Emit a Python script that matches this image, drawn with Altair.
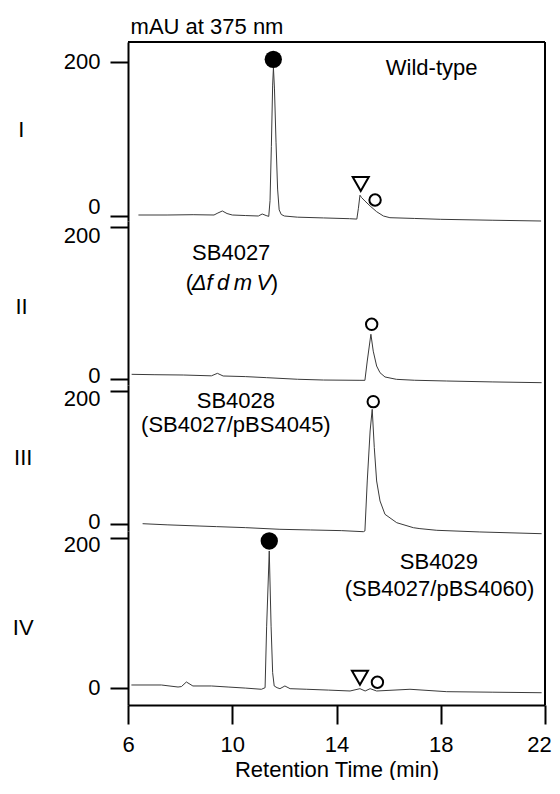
import altair as alt
import pandas as pd

FONT = "Liberation Sans"
FS = 22

# ---------------- data ----------------
# Panel I : Wild-type
t1 = [6.4, 7.5, 8.5, 9.3, 9.45, 9.62, 9.8, 10.0, 10.5, 11.0, 11.15, 11.3, 11.4, 11.45, 11.5,
      11.55, 11.58, 11.62, 11.68, 11.74, 11.8, 11.88, 12.0, 12.5, 13.5, 14.5, 14.78, 14.84,
      14.9, 14.96, 15.09, 15.29, 15.54, 15.8, 16.05, 17.0, 18.0, 20.0, 21.85]
v1 = [1.3, 1.3, 1.7, 1.3, 3.9, 6.5, 3.2, 1.3, 0.6, 0.0, 2.6, 0.6, -0.5, 20, 90,
      170, 192.6, 165, 95, 35, 8, 2, 0, -1.5, -2.5, -3.5, -4, 10,
      27, 24, 19.5, 13, 5.6, 0, -2.2, -3.2, -4.3, -5.5, -6.5]
# Panel II : SB4027 (delta fdmV)
t2 = [6.14, 7.0, 8.12, 9.2, 9.43, 9.65, 10.5, 11.32, 12.5, 13.5, 14.9, 15.09, 15.18, 15.32,
      15.41, 15.54, 15.67, 15.86, 16.3, 17.0, 18.23, 20.0, 21.87]
v2 = [5.5, 5.0, 4.6, 3.5, 6.8, 3.3, 2.5, 1.1, -1.0, -2.0, -2.4, -2.4, 23, 58.2,
      36, 16.4, 7.6, 2.0, -1.1, -2.3, -3.3, -4.5, -5.5]
# Panel III : SB4028
t3 = [6.56, 7.5, 8.76, 9.4, 10.5, 11.83, 13.0, 14.2, 15.03, 15.09, 15.18, 15.29, 15.37,
      15.45, 15.54, 15.67, 15.86, 16.31, 16.95, 17.2, 17.85, 19.5, 21.87]
v3 = [0.9, -0.8, -2.6, -3.5, -5.0, -7.5, -8.5, -9.5, -11.1, -10, 65, 140, 172.5,
      115, 65, 35, 15, 2.4, -5.1, -6.5, -9.0, -11.5, -14.1]
# Panel IV : SB4029
t4 = [6.13, 7.28, 7.92, 8.05, 8.24, 8.49, 9.2, 9.84, 10.5, 11.12, 11.26, 11.32, 11.42, 11.49,
      11.55, 11.61, 11.72, 11.83, 12.02, 12.22, 12.86, 13.7, 14.52, 14.9, 15.1, 15.29, 15.54,
      16.82, 18.23, 20.0, 21.87]
v4 = [3.6, 3.6, 0.9, 1.5, 7.6, 2.3, 2.3, 0.9, -0.5, -2.1, 0, 82, 182.3, 82,
      20, 2.3, 0, -1.3, 2.3, -1.3, -2.1, -3.2, -4.4, -1.3, -4.4, -1.3, -4.4,
      -2.1, -5.3, -6.0, -6.7]

# peak markers: time, height, kind
m1_t = [11.575, 14.93, 15.48]
m1_v = [203.5, 41.6, 20.8]
m1_k = ["filled", "triangle", "open"]
m2_t = [15.35]
m2_v = [71.3]
m2_k = ["open"]
m3_t = [15.41]
m3_v = [184]
m3_k = ["open"]
m4_t = [11.42, 14.9, 15.57]
m4_v = [195.6, 13.3, 7.2]
m4_k = ["filled", "triangle", "open"]

numerals = ["I", "II", "III", "IV"]
x_ticks = [6, 10, 14, 18, 22]
y_ticks = [0, 200]
y_title = "mAU at 375 nm"
x_title = "Retention Time (min)"

# ---------------- layout ----------------
W = 417
TS = "\u2009"  # thin space for the letter-spaced italic gene name


def panel(t, v, mt, mv, mk, ymin, ymax, h, numeral, numX, numY, off0, off200,
          texts_up, texts_it, show_x=False, top=False, head=None):
    xs = alt.Scale(domain=[6, 22], nice=False, zero=False)
    ys = alt.Scale(domain=[ymin, ymax], nice=False, zero=False)
    if show_x:
        xaxis = alt.Axis(values=x_ticks, title=x_title, tickSize=19,
                         labelPadding=10, titleY=71, titleBaseline="alphabetic",
                         titleAnchor="middle", labelFlush=False,
                         labelOverlap=False, grid=False, format="d",
                         labelOffset={"condition": {"test": "datum.value == 22", "value": -6},
                                      "value": 0})
    else:
        xaxis = None
    yaxis = alt.Axis(values=y_ticks, title=numeral, titleAngle=0, titleX=numX, titleY=numY,
                     titleAlign="center", titleBaseline="middle", tickSize=18,
                     labelPadding=10, labelFlush=False, labelOverlap=False, grid=False,
                     labelOffset={"condition": {"test": "datum.value == 0", "value": off0},
                                  "value": off200})
    X = alt.X("t:Q", scale=xs, axis=xaxis)
    Y = alt.Y("v:Q", scale=ys, axis=yaxis)

    layers = []
    df = pd.DataFrame({"t": t, "v": v})
    layers.append(alt.Chart(df).mark_line(color="#3a3a3a", strokeWidth=1).encode(x=X, y=Y))

    mdf = pd.DataFrame({"t": mt, "v": mv, "k": mk})
    f = mdf[mdf.k == "filled"]
    if len(f):
        layers.append(alt.Chart(f).mark_point(shape="circle", filled=True, size=300,
                                              color="black", opacity=1).encode(x=X, y=Y))
    o = mdf[mdf.k == "open"]
    if len(o):
        layers.append(alt.Chart(o).mark_point(shape="circle", filled=False, size=130,
                                              strokeWidth=2, color="black", opacity=1).encode(x=X, y=Y))
    tr = mdf[mdf.k == "triangle"]
    if len(tr):
        layers.append(alt.Chart(tr).mark_point(shape="triangle-down", filled=False, size=256,
                                               strokeWidth=2, color="black", opacity=1).encode(x=X, y=Y))

    if texts_up:
        tdf = pd.DataFrame(texts_up, columns=["label", "t", "v"])
        layers.append(alt.Chart(tdf).mark_text(font=FONT, fontSize=FS, color="black",
                                               align="center", baseline="middle")
                      .encode(x=X, y=Y, text="label:N"))
    if texts_it:
        idf = pd.DataFrame(texts_it, columns=["label", "t", "v"])
        layers.append(alt.Chart(idf).mark_text(font=FONT, fontSize=FS, color="black",
                                               fontStyle="italic", align="center",
                                               baseline="middle")
                      .encode(x=X, y=Y, text="label:N"))
    if head:
        hdf = pd.DataFrame(head, columns=["label", "t", "v"])
        layers.append(alt.Chart(hdf).mark_text(font=FONT, fontSize=FS, color="black",
                                               align="left", baseline="alphabetic")
                      .encode(x=X, y=Y, text="label:N"))

    # frame: right edge (and top edge for the first panel)
    rdf = pd.DataFrame({"t": [22], "v": [ymin], "v2": [ymax]})
    layers.append(alt.Chart(rdf).mark_rule(color="black", strokeWidth=2)
                  .encode(x=X, y=Y, y2="v2"))
    if top:
        tdf2 = pd.DataFrame({"t": [6], "t2": [22], "v": [ymax]})
        layers.append(alt.Chart(tdf2).mark_rule(color="black", strokeWidth=2)
                      .encode(x=X, x2="t2", y=Y))

    return alt.layer(*layers).properties(width=W, height=h)


p1 = panel(t1, v1, m1_t, m1_v, m1_k, -6.49, 225.97, 179, numerals[0], -107.3, 87, -10, 0,
           [["Wild-type", 17.65, 191.6]], None, top=True,
           head=[[y_title, 6.10, 236.4]])
p2 = panel(t2, v2, m2_t, m2_v, m2_k, -8.55, 207.24, 164, numerals[1], -107, 85.7, -3.5, 9,
           [["SB4027", 9.96, 164.5], ["(", 8.36, 125.7], [")", 11.62, 125.7]],
           [["\u0394f" + TS + "d" + TS + "m" + TS + "V", 9.97, 125.7]])
p3 = panel(t3, v3, m3_t, m3_v, m3_k, -10.05, 209.0, 146, numerals[2], -105.3, 72, -3, 8,
           [["SB4028", 10.14, 185.7], ["(SB4027/pBS4045)", 10.14, 149.7]], None)
p4 = panel(t4, v4, m4_t, m4_v, m4_k, -23.07, 208.93, 174, numerals[3], -105.3, 96.5, 0, 6.5,
           [["SB4029", 17.93, 167], ["(SB4027/pBS4060)", 17.95, 131.6]], None, show_x=True)

chart = alt.vconcat(p1, p2, p3, p4, spacing=0, bounds="flush").properties(
    padding={"left": 4, "top": 7, "right": 0, "bottom": 0}
).configure_view(stroke=None).configure_axis(
    labelFont=FONT, labelFontSize=FS, labelColor="black",
    titleFont=FONT, titleFontSize=FS, titleFontWeight="normal", titleColor="black",
    domainColor="black", domainWidth=2, tickColor="black", tickWidth=2, grid=False
)

chart.save("out.html", embed_options={"renderer": "svg", "actions": False})
